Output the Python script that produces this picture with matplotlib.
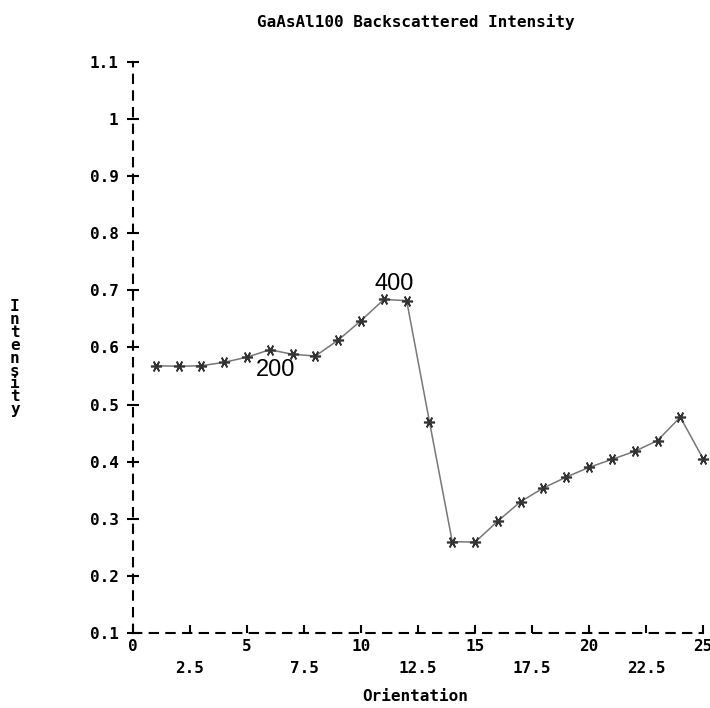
import numpy as np
import matplotlib.pyplot as plt
from matplotlib.ticker import FixedLocator

# values
orientation = [1, 2, 3, 4, 5, 6, 7, 8, 9, 10, 11, 12, 13,
               14, 15, 16, 17, 18, 19, 20, 21, 22, 23, 24, 25]
intensity = [0.568, 0.567, 0.568, 0.574, 0.583, 0.596, 0.588, 0.585, 0.613,
             0.647, 0.684, 0.682, 0.470, 0.260, 0.259, 0.296, 0.330, 0.354,
             0.373, 0.390, 0.404, 0.418, 0.437, 0.478, 0.405]
y_ticks = [0.1, 0.2, 0.3, 0.4, 0.5, 0.6, 0.7, 0.8, 0.9, 1, 1.1]
y_labels = ["0.1", "0.2", "0.3", "0.4", "0.5", "0.6", "0.7", "0.8", "0.9", "1", "1.1"]
x_major = [0, 5, 10, 15, 20, 25]
x_minor = [2.5, 7.5, 12.5, 17.5, 22.5]
peaks = [("200", 6.25, 0.561), ("400", 11.45, 0.711)]

mono = {"family": "DejaVu Sans Mono", "weight": "bold", "size": 11.5}

fig = plt.figure(figsize=(7.10, 7.08), dpi=100)
ax = fig.add_axes([0.1873, 0.106, 0.803, 0.8065])

ax.plot(orientation, intensity, color="#777777", lw=1.1, clip_on=False,
        marker=(6, 2, 90), ms=8, mec="#333333", mew=1.2)

ax.set_xlim(0, 25)
ax.set_ylim(0.1, 1.1)

for s in ["top", "right"]:
    ax.spines[s].set_visible(False)
for s in ["left", "bottom"]:
    ax.spines[s].set_linestyle((0, (4, 4)))
    ax.spines[s].set_linewidth(1.5)

ax.yaxis.set_major_locator(FixedLocator(y_ticks))
ax.set_yticklabels(y_labels, fontdict=mono)
ax.xaxis.set_major_locator(FixedLocator(x_major))
ax.set_xticklabels([str(v) for v in x_major], fontdict=mono)
ax.xaxis.set_minor_locator(FixedLocator(x_minor))
ax.set_xticklabels([str(v) for v in x_minor], minor=True, fontdict=mono)

ax.tick_params(axis="y", direction="inout", length=9, width=1.5, pad=6)
ax.tick_params(axis="x", which="major", direction="in", length=6, width=1.5, pad=4)
ax.tick_params(axis="x", which="minor", direction="in", length=6, width=1.5, pad=20)

for txt, xx, yy in peaks:
    ax.text(xx, yy, txt, fontsize=17, family="Liberation Sans", ha="center", va="center")

fig.text(0.585, 0.969, "GaAsAl100 Backscattered Intensity", ha="center", va="center",
         family="DejaVu Sans Mono", weight="bold", fontsize=11.5)
fig.text(0.585, 0.016, "Orientation", ha="center", va="center",
         family="DejaVu Sans Mono", weight="bold", fontsize=11.5)
fig.text(0.021, 0.494, "\n".join("Intensity"), ha="center", va="center",
         family="DejaVu Sans Mono", weight="bold", fontsize=11.5, linespacing=0.82)

fig.savefig("out.png", dpi=100)
